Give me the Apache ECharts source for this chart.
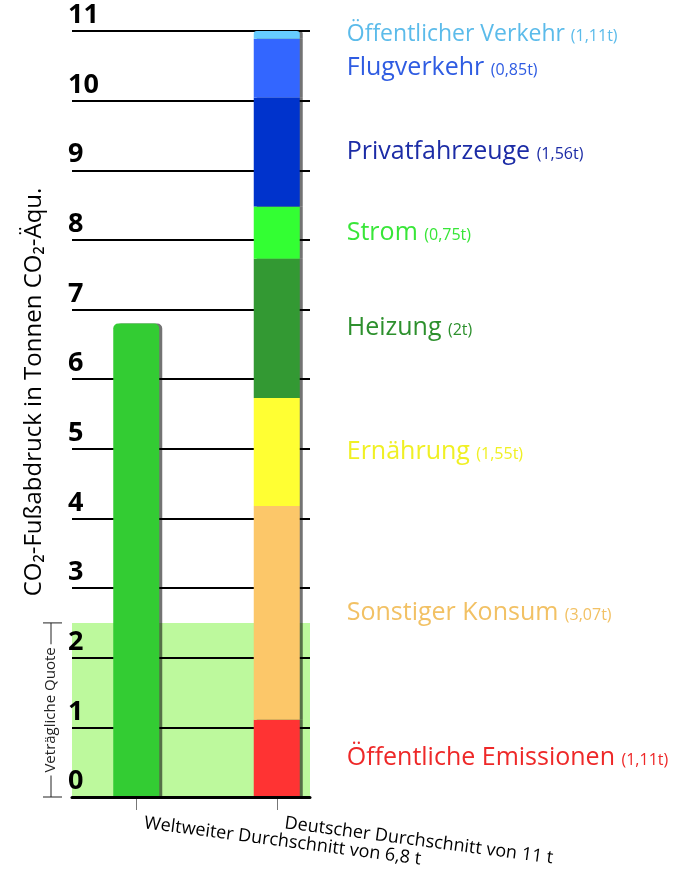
<!DOCTYPE html>
<html><head><meta charset="utf-8">
<script src="https://cdn.jsdelivr.net/npm/echarts@6/dist/echarts.min.js"></script>
<style>html,body{margin:0;padding:0;background:#fff}#c{width:689px;height:870px}</style>
</head><body><div id="c"></div>
<script>
// ---- data ----
const categories = ['Weltweiter Durchschnitt von 6,8 t', 'Deutscher Durchschnitt von 11 t'];
const worldValue = 6.8;
const segNames = ['Öffentliche Emissionen', 'Sonstiger Konsum', 'Ernährung', 'Heizung', 'Strom', 'Privatfahrzeuge', 'Flugverkehr', 'Öffentlicher Verkehr'];
const segValueTexts = ['(1,11t)', '(3,07t)', '(1,55t)', '(2t)', '(0,75t)', '(1,56t)', '(0,85t)', '(1,11t)'];
const segValues = [1.11, 3.07, 1.55, 2.0, 0.75, 1.56, 0.85, 0.11];
const segColors = ['#ff3333', '#fcc769', '#ffff33', '#339933', '#33ff33', '#0033cc', '#3366ff', '#66ccff'];
const segTextColors = ['#ee2828', '#f2c164', '#f0f024', '#2d902d', '#38e638', '#1c2ca6', '#2f5ce2', '#5bbbea'];
const yMin = 0, yMax = 11, yStep = 1;
const quota = 2.5;
const quotaLabel = 'Veträgliche Quote';
const yTitle = 'CO₂-Fußabdruck in Tonnen CO₂-Äqu.';

const FONT = '"Open Sans", "Noto Sans", sans-serif';
const chart = echarts.init(document.getElementById('c'), null, { renderer: 'canvas' });

const shadow = { shadowColor: 'rgba(0,0,0,0.55)', shadowOffsetX: 3, shadowOffsetY: 0, shadowBlur: 0 };

const series = [];
series.push({
  type: 'line', xAxisIndex: 0, yAxisIndex: 0, data: [], silent: true,
  markArea: { silent: true, z: 0, itemStyle: { color: '#bdf99d' }, data: [[{ yAxis: 0 }, { yAxis: quota }]] }
});
series.push({
  name: categories[0], type: 'bar', xAxisIndex: 1, yAxisIndex: 1, stack: 'all', barWidth: 46, z: 3,
  data: [worldValue, '-'],
  itemStyle: Object.assign({ color: '#33cc33', borderRadius: [5, 5, 0, 0] }, shadow)
});
segValues.forEach(function (v, i) {
  const isTop = i === segValues.length - 1;
  const big = isTop ? 23 : 25;
  series.push({
    name: segNames[i], type: 'bar', xAxisIndex: 1, yAxisIndex: 1, stack: 'all', barWidth: 46, z: 3,
    data: ['-', v],
    itemStyle: Object.assign({ color: segColors[i], borderRadius: isTop ? [3, 3, 0, 0] : 0 }, shadow),
    label: {
      show: true, position: 'right', distance: 47,
      formatter: '{n|' + segNames[i] + ' }{v|' + segValueTexts[i] + '}',
      rich: {
        n: { fontSize: big, color: segTextColors[i], fontFamily: FONT, verticalAlign: 'bottom' },
        v: { fontSize: 16, color: segTextColors[i], fontFamily: FONT, verticalAlign: 'bottom', padding: [0, 0, 2, 0] }
      }
    }
  });
});

chart.setOption({
  animation: false,
  backgroundColor: '#fff',
  grid: [
    { left: 72, right: 379, top: 31, bottom: 73, outerBoundsMode: 'none' },
    { left: 66, right: 342, top: 31, bottom: 73, outerBoundsMode: 'none' }
  ],
  xAxis: [
    { type: 'value', gridIndex: 0, min: 0, max: 1, z: 4,
      axisLine: { show: true, onZero: false, lineStyle: { color: '#000', width: 3 } },
      axisTick: { show: false }, axisLabel: { show: false }, splitLine: { show: false } },
    { type: 'category', gridIndex: 1, data: categories, offset: 6,
      axisLine: { show: false },
      axisTick: { show: true, alignWithLabel: true, length: 13, lineStyle: { color: '#777', width: 1 } },
      axisLabel: { interval: 0, rotate: -7.5, margin: 19, fontSize: 18, color: '#000', fontFamily: FONT, padding: [0, 0, 0, 8] } }
  ],
  yAxis: [
    { type: 'value', gridIndex: 0, min: yMin, max: yMax, interval: yStep, z: 1,
      name: yTitle, nameLocation: 'middle', nameRotate: 90, nameGap: 26,
      nameTextStyle: { fontSize: 24, color: '#000', fontFamily: FONT, padding: [0, 0, 0, 44] },
      axisLine: { show: false }, axisTick: { show: false },
      axisLabel: { align: 'left', verticalAlign: 'bottom', margin: 4, fontSize: 27, fontWeight: 'bold', color: '#000', fontFamily: FONT, padding: [0, 0, 2, 0] },
      splitLine: { show: true, lineStyle: { color: '#000', width: 2 } } },
    { type: 'value', gridIndex: 1, min: yMin, max: yMax, show: false, splitLine: { show: false } }
  ],
  series: series
});

// quota bracket (annotation anchored to the axis scale)
const y0 = chart.convertToPixel({ yAxisIndex: 0 }, 0);
const yq = chart.convertToPixel({ yAxisIndex: 0 }, quota);
const bx = 51;
chart.setOption({
  graphic: [
    { type: 'line', shape: { x1: bx, y1: yq, x2: bx, y2: y0 }, style: { stroke: '#222', lineWidth: 1 }, z: 10 },
    { type: 'line', shape: { x1: bx - 8, y1: yq, x2: bx + 11, y2: yq }, style: { stroke: '#222', lineWidth: 1 }, z: 10 },
    { type: 'line', shape: { x1: bx - 8, y1: y0, x2: bx + 11, y2: y0 }, style: { stroke: '#222', lineWidth: 1 }, z: 10 },
    { type: 'text', x: bx, y: (yq + y0) / 2, rotation: Math.PI / 2, z: 11,
      style: { text: quotaLabel, fontSize: 15, fontFamily: FONT, fill: '#222', align: 'center', verticalAlign: 'middle', backgroundColor: '#fff', padding: [0, 3] } }
  ]
});
</script></body></html>
